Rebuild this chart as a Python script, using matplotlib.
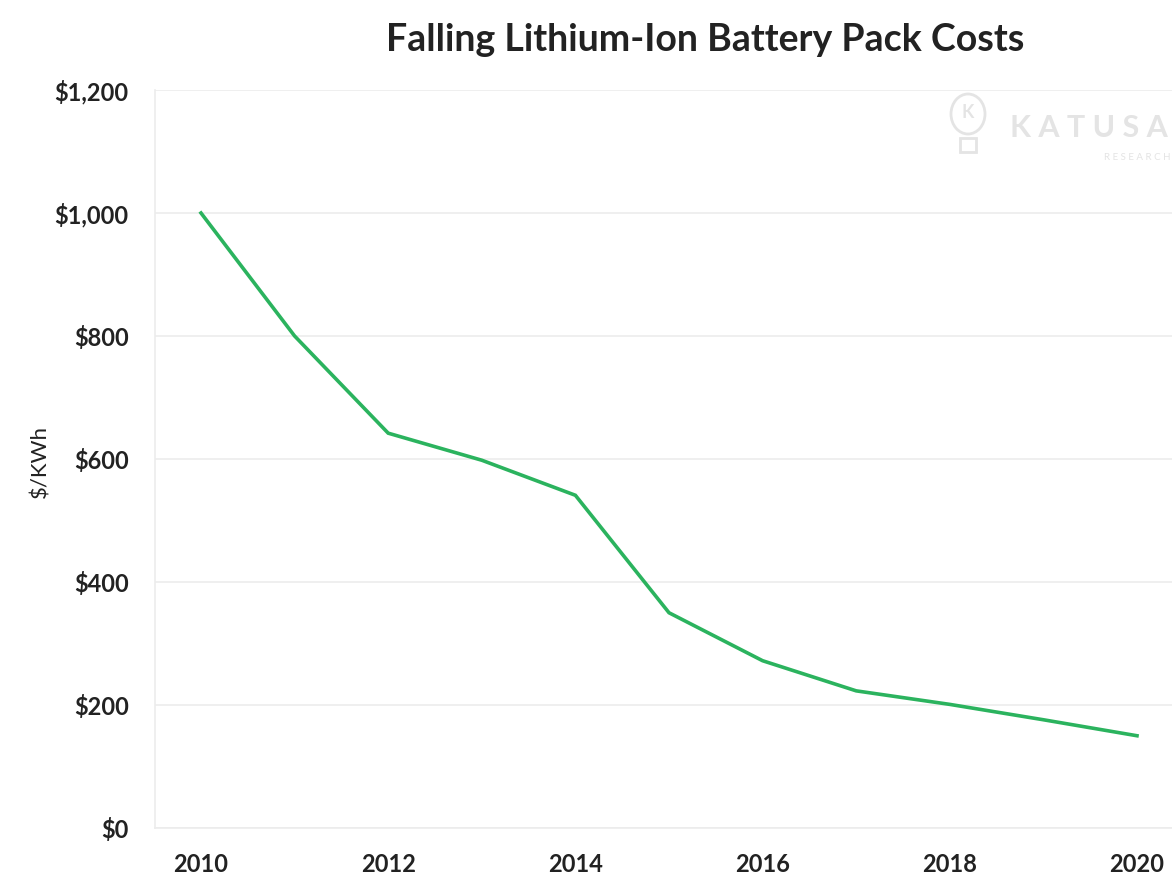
import matplotlib
matplotlib.use("Agg")
import matplotlib.pyplot as plt
from matplotlib.ticker import FuncFormatter
from matplotlib.patches import Ellipse, Rectangle

years = [2010, 2011, 2012, 2013, 2014, 2015, 2016, 2017, 2018, 2019, 2020]
cost_per_kwh = [1000, 800, 642, 598, 541, 350, 272, 223, 201, 176, 150]
x_ticks = [2010, 2012, 2014, 2016, 2018, 2020]
y_ticks = [0, 200, 400, 600, 800, 1000, 1200]

plt.rcParams['font.family'] = ['Lato', 'DejaVu Sans']

W, H = 1172, 876
fig = plt.figure(figsize=(W/100, H/100), dpi=100)
ax = fig.add_axes([155/W, 48/H, 1 - 155/W, 738/H])

ax.plot(years, cost_per_kwh, color='#2bb35e', linewidth=2.6, solid_joinstyle='miter')

ax.set_xlim(2010 - 46/93.6, 2010 + (W-201)/93.6)
ax.set_ylim(0, 1200)
ax.set_xticks(x_ticks)
ax.set_yticks(y_ticks)
ax.yaxis.set_major_formatter(FuncFormatter(lambda v, p: "\\$" + f"{int(v):,}"))
ax.tick_params(axis='both', length=0, labelsize=17, colors='#222222')
ax.tick_params(axis='y', pad=19)
ax.tick_params(axis='x', pad=18)
for lbl in ax.get_xticklabels() + ax.get_yticklabels():
    lbl.set_fontweight('bold')

ax.grid(axis='y', color='#ececec', linewidth=1.2)
ax.set_axisbelow(True)
for s in ['top', 'right']:
    ax.spines[s].set_visible(False)
for s in ['left', 'bottom']:
    ax.spines[s].set_color('#ececec')
    ax.spines[s].set_linewidth(1.2)

fig.text(40/W, 1 - 462/H, "\\$/KWh", rotation=90, ha='center', va='center',
         fontsize=16, color='#222222')

fig.text(705/W, 1 - 40/H, "Falling Lithium-Ion Battery Pack Costs",
         ha='center', va='center', fontsize=27, fontweight='bold', color='#222222')

# watermark
wm = '#e4e4e4'
fig.text(1168/W, 1 - 128/H, "K A T U S A", ha='right', va='center',
         fontsize=22, fontweight='bold', color=wm)
fig.text(1170/W, 1 - 158/H, "R E S E A R C H", ha='right', va='center',
         fontsize=7, color=wm)
fig.patches.append(Ellipse((968/W, 1 - 114/H), 34/W, 40/H, transform=fig.transFigure,
                           fill=False, edgecolor=wm, linewidth=2))
fig.patches.append(Rectangle((960/W, 1 - 152/H), 16/W, 14/H, transform=fig.transFigure,
                             fill=False, edgecolor=wm, linewidth=2))
fig.text(968/W, 1 - 112/H, "K", ha='center', va='center', fontsize=13, color=wm,
         fontweight='bold')

fig.savefig("out.png", dpi=100, facecolor='white')
